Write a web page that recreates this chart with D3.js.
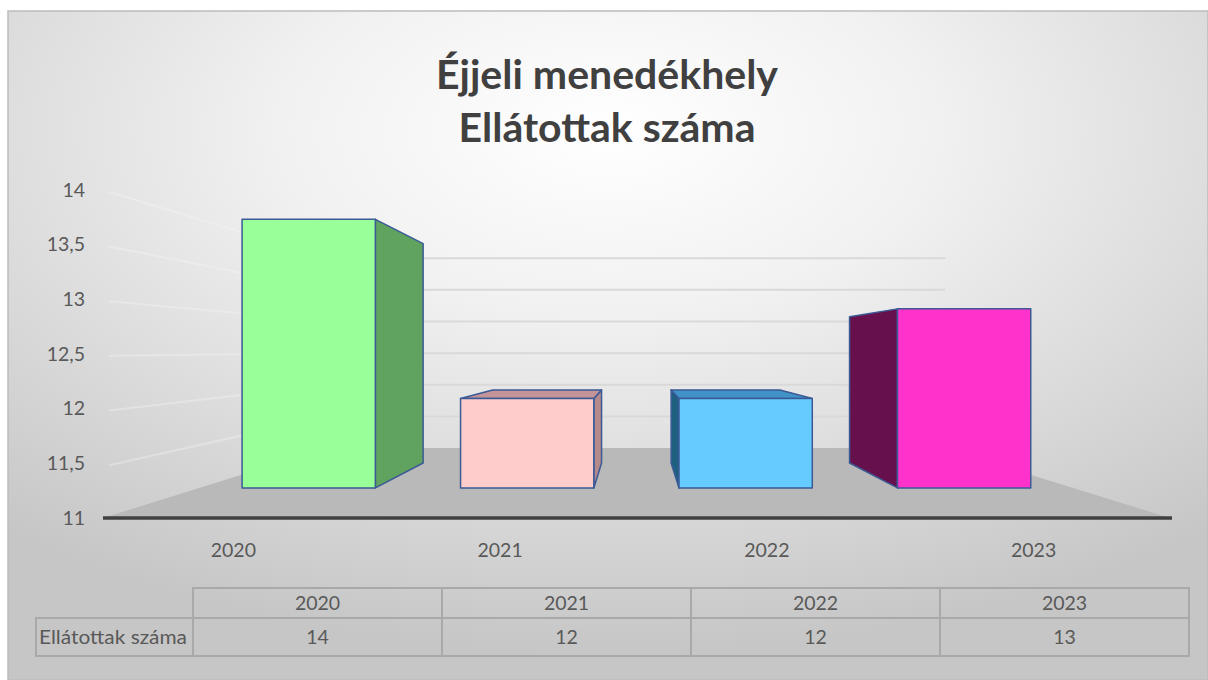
<!DOCTYPE html>
<html>
<head>
<meta charset="utf-8">
<script src="https://cdn.jsdelivr.net/npm/d3@7"></script>
<style>
	body { margin: 0; background: #ffffff; }
	text { font-family: Lato, "Open Sans", sans-serif; }
</style>
</head>
<body>
<div id="chart"></div>
<script>
const titleLines = ["Éjjeli menedékhely", "Ellátottak száma"];
const years = ["2020", "2021", "2022", "2023"];
const values = [14, 12, 12, 13];
const yTicks = [11, 11.5, 12, 12.5, 13, 13.5, 14];
const rowLabel = "Ellátottak száma";
const frontColors = ["#99ff99", "#ffcccc", "#66ccff", "#ff33cc"];
const sideColors = ["#5fa35f", "#b48a8d", "#1f5f80", "#66114d"];
const topColors = ["#5fa35f", "#c49598", "#4192c6", "#66114d"];

drawchart()

function drawchart() {
	const W = 1208, H = 680;
	const svg = d3.select("#chart")
		.append("svg")
		.attr("width", W)
		.attr("height", H);

	// background gradient
	const defs = svg.append("defs");
	const grad = defs.append("radialGradient")
		.attr("id", "bg")
		.attr("cx", 0.5).attr("cy", 0.18).attr("r", 0.78);
	grad.append("stop").attr("offset", 0).attr("stop-color", "#ffffff");
	grad.append("stop").attr("offset", 0.35).attr("stop-color", "#f1f1f1");
	grad.append("stop").attr("offset", 1).attr("stop-color", "#c6c6c6");

	svg.append("rect")
		.attr("x", 8).attr("y", 11)
		.attr("width", W - 8).attr("height", H - 11)
		.attr("fill", "url(#bg)")
		.attr("stroke", "#bcbcbc")
		.attr("stroke-width", 1.5);

	// title
	svg.append("g").selectAll("text")
		.data(titleLines)
		.join("text")
		.attr("x", 607)
		.attr("y", (d, i) => 89 + i * 53)
		.attr("text-anchor", "middle")
		.attr("font-size", "41px")
		.attr("font-weight", "bold")
		.attr("fill", "#404040")
		.text(d => d);

	// front plane scales
	const x = d3.scaleBand()
		.domain(years)
		.range([103, 1170])
		.paddingInner(0.39)
		.paddingOuter(0.195);
	const xCat = d3.scaleBand().domain(years).range([103, 1170]);
	const y = d3.scaleLinear().domain([11, 14]).range([518, 190]);

	// perspective: vanishing point and depth factor
	const vp = { x: 636, y: 352 };
	const depth = d3.scaleLinear().domain([0, 1]).range([0, 0.727]);
	const zBar = [0.304, 0.681];
	function proj(px, v, z) {
		const s = 1 / (1 + depth(z));
		return [vp.x + s * (px - vp.x), vp.y + s * (y(v) - vp.y)];
	}
	const poly = pts => pts.map(p => p.join(",")).join(" ");

	const xL = x.range()[0], xR = x.range()[1];

	// back wall gridlines
	svg.append("g").selectAll("line")
		.data(yTicks.slice(1))
		.join("line")
		.attr("x1", d => proj(xL, d, 1)[0])
		.attr("y1", d => proj(xL, d, 1)[1])
		.attr("x2", d => proj(xR, d, 1)[0])
		.attr("y2", d => proj(xR, d, 1)[1])
		.attr("stroke", "#d9d9d9")
		.attr("stroke-width", 2);

	// left wall gridlines (faint)
	svg.append("g").selectAll("line")
		.data(yTicks.slice(1))
		.join("line")
		.attr("x1", d => proj(xL, d, 0)[0] + 6)
		.attr("y1", d => proj(xL, d, 0)[1] + 6 * 0.31)
		.attr("x2", d => proj(xL, d, 1)[0])
		.attr("y2", d => proj(xL, d, 1)[1])
		.attr("stroke", "#f6f6f6")
		.attr("stroke-opacity", 0.35)
		.attr("stroke-width", 2);

	// floor
	svg.append("polygon")
		.attr("points", poly([proj(xL, 11, 0), proj(xR, 11, 0), proj(xR, 11, 1), proj(xL, 11, 1)]))
		.attr("fill", "#b9b9b9");

	svg.append("line")
		.attr("x1", xL).attr("x2", xR + 2)
		.attr("y1", y(11)).attr("y2", y(11))
		.attr("stroke", "#404040")
		.attr("stroke-width", 3.5);

	// bars
	const bars = svg.append("g")
		.selectAll("g")
		.data(years.map((d, i) => ({ year: d, value: values[i], i: i })))
		.join("g");

	bars.each(function(d) {
		const g = d3.select(this);
		const x0 = x(d.year), x1 = x0 + x.bandwidth();
		const z0 = zBar[0], z1 = zBar[1];
		// side face
		const sx = x1 < vp.x ? x1 : x0;
		g.append("polygon")
			.attr("points", poly([proj(sx, d.value, z0), proj(sx, d.value, z1), proj(sx, 11, z1), proj(sx, 11, z0)]))
			.attr("fill", sideColors[d.i]);
		// top face, only when it is below eye level
		if (proj(x0, d.value, z1)[1] < proj(x0, d.value, z0)[1]) {
			g.append("polygon")
				.attr("points", poly([proj(x0, d.value, z0), proj(x1, d.value, z0), proj(x1, d.value, z1), proj(x0, d.value, z1)]))
				.attr("fill", topColors[d.i]);
		}
		// front face
		g.append("polygon")
			.attr("points", poly([proj(x0, d.value, z0), proj(x1, d.value, z0), proj(x1, 11, z0), proj(x0, 11, z0)]))
			.attr("fill", frontColors[d.i]);
	});
	bars.selectAll("polygon")
		.attr("stroke", "#3b5a96")
		.attr("stroke-width", 1.5)
		.attr("stroke-linejoin", "round");

	// y axis labels
	const hu = d3.formatLocale({ decimal: ",", thousands: " ", grouping: [3], currency: ["", " Ft"] });
	const fmt = hu.format(".1~f");
	svg.append("g").selectAll("text")
		.data(yTicks)
		.join("text")
		.attr("x", 85)
		.attr("y", d => y(d))
		.attr("dy", "0.35em")
		.attr("text-anchor", "end")
		.attr("font-size", "19.5px")
		.attr("fill", "#595959")
		.text(d => fmt(d));

	// category labels
	svg.append("g").selectAll("text")
		.data(years)
		.join("text")
		.attr("x", d => xCat(d) + xCat.bandwidth() / 2 - 3)
		.attr("y", 550)
		.attr("dy", "0.35em")
		.attr("text-anchor", "middle")
		.attr("font-size", "19.5px")
		.attr("fill", "#595959")
		.text(d => d);

	// data table
	const tc = d3.scaleBand().domain(years).range([193, 1189]);
	const t = svg.append("g").attr("id", "table");
	const rowTop = 588, rowMid = 618, rowBot = 656, labLeft = 36;
	const lineC = "#a9a9a9";
	t.append("rect")
		.attr("x", tc.range()[0]).attr("y", rowTop)
		.attr("width", tc.range()[1] - tc.range()[0]).attr("height", rowBot - rowTop)
		.attr("fill", "none").attr("stroke", lineC).attr("stroke-width", 2);
	t.append("rect")
		.attr("x", labLeft).attr("y", rowMid)
		.attr("width", tc.range()[0] - labLeft).attr("height", rowBot - rowMid)
		.attr("fill", "none").attr("stroke", lineC).attr("stroke-width", 2);
	t.append("line")
		.attr("x1", tc.range()[0]).attr("x2", tc.range()[1])
		.attr("y1", rowMid).attr("y2", rowMid)
		.attr("stroke", lineC).attr("stroke-width", 2);
	t.selectAll(".vline")
		.data(years.slice(1))
		.join("line")
		.attr("class", "vline")
		.attr("x1", d => tc(d)).attr("x2", d => tc(d))
		.attr("y1", rowTop).attr("y2", rowBot)
		.attr("stroke", lineC).attr("stroke-width", 2);
	t.selectAll(".head")
		.data(years)
		.join("text")
		.attr("class", "head")
		.attr("x", d => tc(d) + tc.bandwidth() / 2)
		.attr("y", (rowTop + rowMid) / 2)
		.attr("dy", "0.35em")
		.attr("text-anchor", "middle")
		.attr("font-size", "19.5px")
		.attr("fill", "#595959")
		.text(d => d);
	t.selectAll(".val")
		.data(values)
		.join("text")
		.attr("class", "val")
		.attr("x", (d, i) => tc(years[i]) + tc.bandwidth() / 2)
		.attr("y", (rowMid + rowBot) / 2)
		.attr("dy", "0.35em")
		.attr("text-anchor", "middle")
		.attr("font-size", "19.5px")
		.attr("fill", "#595959")
		.text(d => d);
	t.append("text")
		.attr("x", labLeft + 3)
		.attr("y", (rowMid + rowBot) / 2)
		.attr("dy", "0.35em")
		.attr("font-size", "19.5px")
		.attr("fill", "#595959")
		.attr("textLength", 148)
		.attr("lengthAdjust", "spacingAndGlyphs")
		.text(rowLabel);
}
</script>
</body>
</html>
